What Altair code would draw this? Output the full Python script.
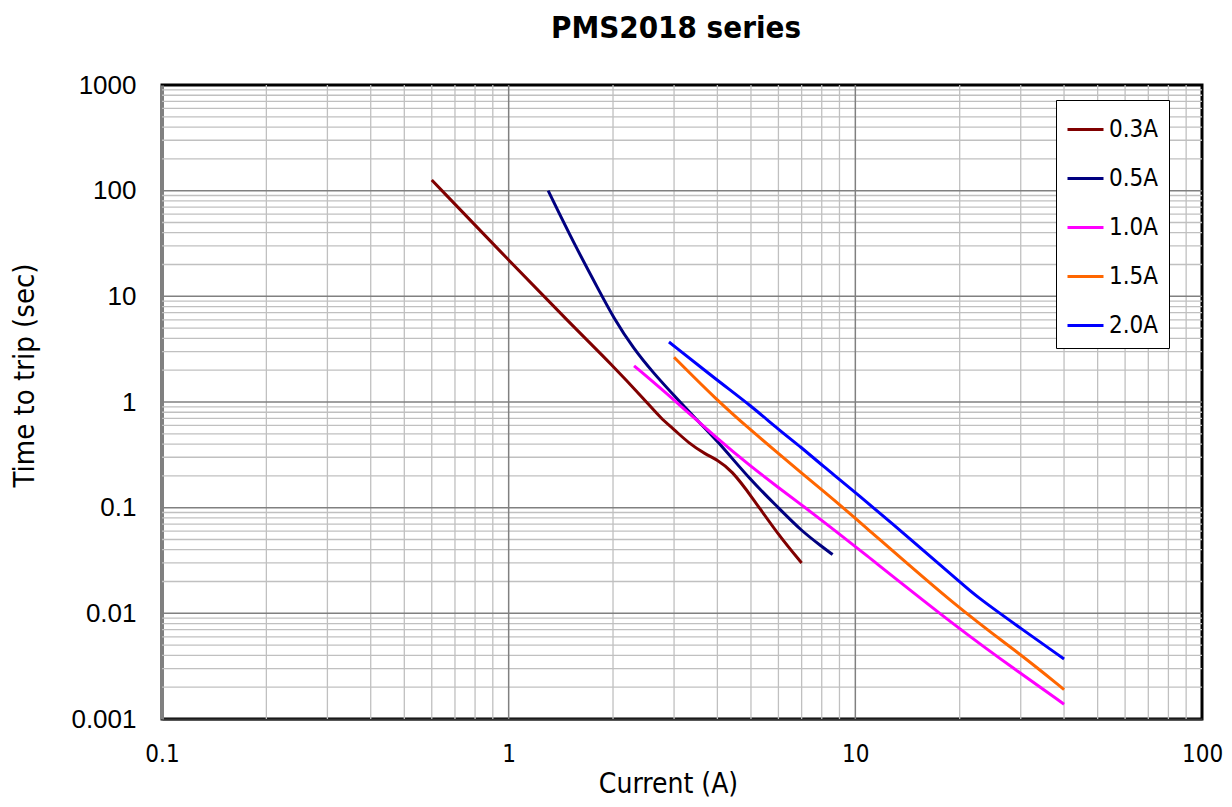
import altair as alt
import pandas as pd

# ---- data ----
series_names = ["0.3A", "0.5A", "1.0A", "1.5A", "2.0A"]
series_colors = ["#800000", "#000080", "#FF00FF", "#FF6600", "#0000FF"]

cur_03 = [0.6, 1.0, 1.5, 2.0, 2.5, 2.75, 3.0, 3.3, 3.7, 4.0, 4.4, 5.0, 6.0, 7.0]
t_03 = [126, 22, 5.6, 2.2, 1.0, 0.7, 0.55, 0.41, 0.32, 0.283, 0.225, 0.13, 0.055, 0.03]

cur_05 = [1.3, 1.54, 1.84, 2.0, 2.29, 2.62, 3.0, 3.41, 4.0, 5.0, 6.0, 7.0, 8.0, 8.6]
t_05 = [100, 32, 10.7, 6.4, 3.2, 1.87, 1.15, 0.73, 0.43, 0.18, 0.1, 0.06, 0.043, 0.036]

cur_10 = [2.3, 3.0, 4.0, 5.0, 6.0, 7.0, 8.0, 10, 20, 30, 40]
t_10 = [2.2, 1.05, 0.45, 0.245, 0.155, 0.106, 0.076, 0.043, 0.007, 0.0027, 0.00138]

cur_15 = [3.0, 4.0, 5.0, 6.0, 7.0, 8.0, 10, 20, 30, 40]
t_15 = [2.65, 1.03, 0.54, 0.325, 0.212, 0.148, 0.08, 0.0108, 0.0041, 0.0019]

cur_20 = [2.9, 4.0, 5.0, 6.0, 7.0, 8.0, 10, 15, 20, 22, 30, 40]
t_20 = [3.7, 1.6, 0.92, 0.55, 0.37, 0.253, 0.14, 0.045, 0.020, 0.015, 0.0072, 0.0037]

x_ticks = [0.1, 1, 10, 100]
y_ticks = [0.001, 0.01, 0.1, 1, 10, 100, 1000]
x_decades = [0.1, 1, 10]
y_decades = [0.001, 0.01, 0.1, 1, 10, 100]
minor_steps = [2, 3, 4, 5, 6, 7, 8, 9]
x_major_grid = [1, 10]
y_major_grid = [0.01, 0.1, 1, 10, 100]

# ---- tables ----
rows = []
for name, xs_, ys_ in zip(series_names,
                          [cur_03, cur_05, cur_10, cur_15, cur_20],
                          [t_03, t_05, t_10, t_15, t_20]):
    for a, b in zip(xs_, ys_):
        rows.append({"current": a, "time": b, "rating": name})
df = pd.DataFrame(rows)

x_minor = pd.DataFrame({"current": [round(k * d, 6) for d in x_decades for k in minor_steps]})
y_minor = pd.DataFrame({"time": [round(k * d, 6) for d in y_decades for k in minor_steps]})
x_major = pd.DataFrame({"current": x_major_grid})
y_major = pd.DataFrame({"time": y_major_grid})

FONT = "DejaVu Sans Condensed, DejaVu Sans"
xscale = alt.Scale(type="log", domain=[0.1, 100])
yscale = alt.Scale(type="log", domain=[0.001, 1000])

x_axis = alt.Axis(values=x_ticks, format="~g", grid=False, ticks=False, tickSize=0,
                  labelFont=FONT, labelFontSize=24, labelColor="black",
                  labelPadding=23, labelFlush=False, labelOverlap=False,
                  title="Current (A)", titleFont=FONT, titleFontSize=28,
                  titleFontWeight="normal", titleColor="black",
                  titleX=506, titleY=73, titleBaseline="alphabetic",
                  domainColor="#333333", domainWidth=2)
y_axis = alt.Axis(values=y_ticks, format="~g", grid=False, ticks=False, tickSize=0,
                  labelFont="Liberation Sans", labelFontSize=26, labelColor="black",
                  labelPadding=26, labelFlush=False, labelOverlap=False,
                  title="Time to trip (sec)", titleFont=FONT, titleFontSize=29,
                  titleFontWeight="normal", titleColor="black",
                  titleAngle=270, titleX=-129, titleY=290,
                  titleAlign="center", titleBaseline="alphabetic",
                  domainColor="#808080", domainWidth=3)

X = lambda: alt.X("current:Q", scale=xscale, axis=x_axis, title="Current (A)")
Y = lambda: alt.Y("time:Q", scale=yscale, axis=y_axis, title="Time to trip (sec)")

gxm = alt.Chart(x_minor).mark_rule(color="#c0c0c0", strokeWidth=1.3).encode(x=X())
gym = alt.Chart(y_minor).mark_rule(color="#c0c0c0", strokeWidth=1.3).encode(y=Y())
gxM = alt.Chart(x_major).mark_rule(color="#808080", strokeWidth=1.5).encode(x=X())
gyM = alt.Chart(y_major).mark_rule(color="#808080", strokeWidth=1.5).encode(y=Y())

lines = alt.Chart(df).mark_line(strokeWidth=3, interpolate="basis", clip=True).encode(
    x=X(),
    y=Y(),
    color=alt.Color("rating:N",
                    scale=alt.Scale(domain=series_names, range=series_colors),
                    legend=alt.Legend(title=None, orient="none", legendX=894, legendY=15,
                                      symbolType="stroke", symbolSize=1296,
                                      symbolStrokeWidth=3, labelFont=FONT,
                                      labelFontSize=24, labelColor="black",
                                      labelOffset=4, rowPadding=17, padding=10,
                                      strokeColor="black", fillColor="white")),
)

chart = alt.layer(gxm, gym, gxM, gyM, lines).properties(
    width=1040, height=634,
    background="white",
    padding={"left": 154, "top": 77, "right": 22, "bottom": 79},
    autosize=alt.AutoSizeParams(type="none"),
    title=alt.TitleParams("PMS2018 series", font=FONT, fontSize=31, fontWeight="bold",
                          color="black", anchor="middle", frame="group", dx=-6,
                          baseline="alphabetic", offset=3),
).configure_view(stroke="black", strokeWidth=3)

chart.save("out.html", embed_options={"renderer": "svg", "actions": False})
